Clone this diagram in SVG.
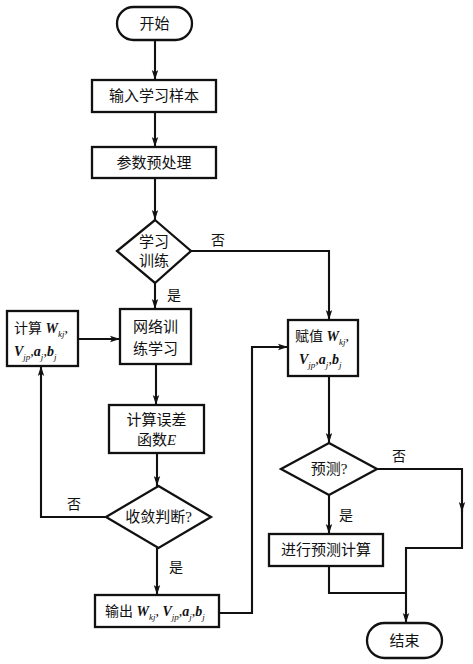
<svg xmlns="http://www.w3.org/2000/svg" width="473" height="664" viewBox="0 0 473 664">
<style>
.box{fill:#fff;stroke:#111;stroke-width:2.3}
.ln{fill:none;stroke:#111;stroke-width:2.1}
.t{font-family:"Liberation Serif","Noto Sans CJK SC",serif;font-size:15px;fill:#111;text-anchor:middle}
.l{font-family:"Liberation Serif","Noto Sans CJK SC",serif;font-size:14px;fill:#111}
.m{font-family:"Liberation Serif",serif;font-weight:bold;font-style:italic}
.s{font-size:9px;font-family:"Liberation Serif",serif;font-style:italic}
</style>
<defs>
<marker id="ah" markerWidth="10" markerHeight="16" refX="14" refY="4.5" viewBox="0 0 14 9" orient="auto" markerUnits="userSpaceOnUse">
<path d="M0,0 L14,4.5 L0,9 L3,4.5 Z" fill="#111"/>
</marker>
</defs>
<rect width="473" height="664" fill="#fff"/>
<g id="connectors">
<path class="ln" d="M155,40 V80" marker-end="url(#ah)"/>
<path class="ln" d="M155,112 V147" marker-end="url(#ah)"/>
<path class="ln" d="M155,178 V220" marker-end="url(#ah)"/>
<path class="ln" d="M191,251 H329 V320" marker-end="url(#ah)"/>
<path class="ln" d="M155,283 V309" marker-end="url(#ah)"/>
<path class="ln" d="M78,339 H120" marker-end="url(#ah)"/>
<path class="ln" d="M156,364 V405" marker-end="url(#ah)"/>
<path class="ln" d="M157,453 V486" marker-end="url(#ah)"/>
<path class="ln" d="M106,517 H41 V366" marker-end="url(#ah)"/>
<path class="ln" d="M157,548 V595" marker-end="url(#ah)"/>
<path class="ln" d="M219,613 H252 V347 H288" marker-end="url(#ah)"/>
<path class="ln" d="M329,376 V443" marker-end="url(#ah)"/>
<path class="ln" d="M329,495 V534" marker-end="url(#ah)"/>
<path class="ln" d="M377,469 H462 V512" marker-end="url(#ah)"/>
<path class="ln" d="M462,505 V548 H406 V623" marker-end="url(#ah)"/>
<path class="ln" d="M329,566 V593 H406"/>
<text class="l" x="211" y="245">否</text>
<text class="l" x="167" y="300">是</text>
<text class="l" x="67" y="509">否</text>
<text class="l" x="169" y="572">是</text>
<text class="l" x="392" y="461">否</text>
<text class="l" x="339" y="520">是</text>
</g>
<g id="start"><rect class="box" x="117" y="7" width="75" height="33" rx="16.5"/><text class="t" x="154.5" y="29">开始</text></g>
<g id="input"><rect class="box" x="92" y="80" width="124" height="32"/><text class="t" x="154" y="101">输入学习样本</text></g>
<g id="preprocess"><rect class="box" x="92" y="147" width="124" height="31"/><text class="t" x="154" y="168">参数预处理</text></g>
<g id="learn"><path class="box" d="M155,220 L191,251 L155,283 L117,251 Z"/><text class="t" x="154" y="247">学习</text><text class="t" x="154" y="266">训练</text></g>
<g id="calcw"><rect class="box" x="7" y="311" width="71" height="55"/>
<text class="l" x="14" y="333">计算 <tspan class="m">W</tspan><tspan class="s" dy="4">kj</tspan><tspan dy="-4">,</tspan></text>
<text class="l" x="14" y="356"><tspan class="m">V</tspan><tspan class="s" dy="4">jp</tspan><tspan dy="-4">,</tspan><tspan class="m">a</tspan><tspan class="s" dy="4">j</tspan><tspan dy="-4">,</tspan><tspan class="m">b</tspan><tspan class="s" dy="4">j</tspan></text></g>
<g id="network"><rect class="box" x="120" y="309" width="71" height="55"/><text class="t" x="155.5" y="332">网络训</text><text class="t" x="155.5" y="354">练学习</text></g>
<g id="error"><rect class="box" x="109" y="405" width="95" height="48"/><text class="t" x="156.5" y="425">计算误差</text><text class="t" x="156.5" y="445">函数<tspan font-style="italic">E</tspan></text></g>
<g id="converge"><path class="box" d="M158.5,486 L211,517 L158.5,548 L106,517 Z"/><text class="t" x="158.5" y="522">收敛判断?</text></g>
<g id="output"><rect class="box" x="95" y="595" width="124" height="32"/>
<text class="l" x="105" y="616">输出 <tspan class="m">W</tspan><tspan class="s" dy="4">kj</tspan><tspan dy="-4">, </tspan><tspan class="m">V</tspan><tspan class="s" dy="4">jp</tspan><tspan dy="-4">,</tspan><tspan class="m">a</tspan><tspan class="s" dy="4">j</tspan><tspan dy="-4">,</tspan><tspan class="m">b</tspan><tspan class="s" dy="4">j</tspan></text></g>
<g id="assign"><rect class="box" x="288" y="320" width="70" height="56"/>
<text class="l" x="295" y="341">赋值 <tspan class="m">W</tspan><tspan class="s" dy="4">kj</tspan><tspan dy="-4">,</tspan></text>
<text class="l" x="299" y="364"><tspan class="m">V</tspan><tspan class="s" dy="4">jp</tspan><tspan dy="-4">,</tspan><tspan class="m">a</tspan><tspan class="s" dy="4">j</tspan><tspan dy="-4">,</tspan><tspan class="m">b</tspan><tspan class="s" dy="4">j</tspan></text></g>
<g id="predictq"><path class="box" d="M329,443 L377,469 L329,495 L281,469 Z"/><text class="t" x="329" y="474">预测?</text></g>
<g id="predict"><rect class="box" x="269" y="534" width="114" height="32"/><text class="t" x="326" y="555">进行预测计算</text></g>
<g id="end"><rect class="box" x="367" y="623" width="75" height="35" rx="17.5"/><text class="t" x="404.5" y="646">结束</text></g>
</svg>
